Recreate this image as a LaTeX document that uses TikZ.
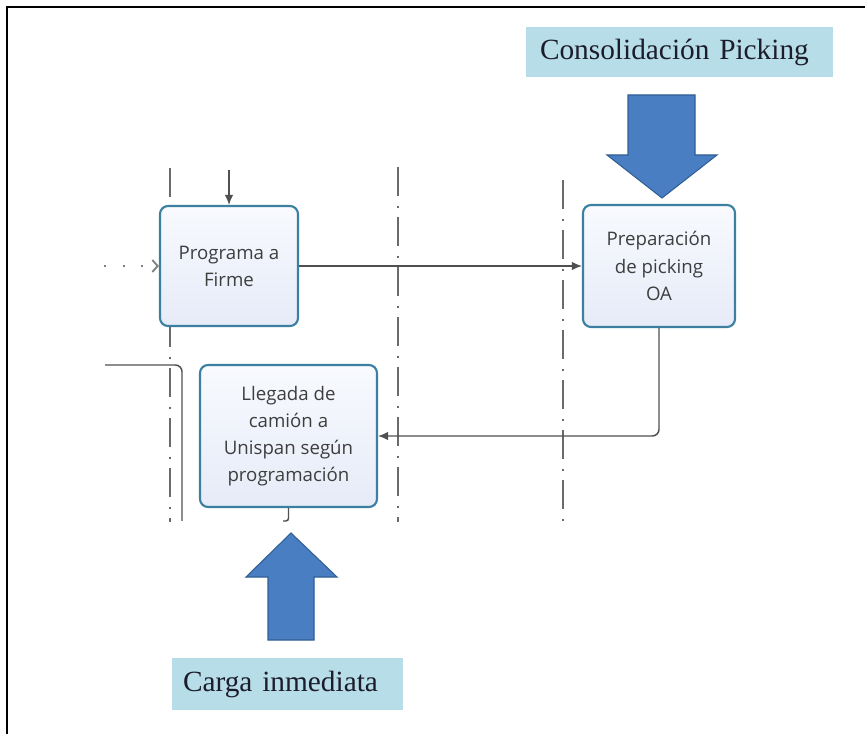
\documentclass[tikz,border=0pt]{standalone}
\usepackage{fontspec}
\setmainfont{Liberation Serif}
\newfontfamily\boxfont{Open Sans}
\usetikzlibrary{arrows.meta}

\definecolor{stepedge}{HTML}{3C7FA0}
\definecolor{steptop}{HTML}{F8FAFE}
\definecolor{stepbottom}{HTML}{E6EBF8}
\definecolor{steptext}{HTML}{3E3E3E}
\definecolor{wire}{HTML}{505050}
\definecolor{lane}{HTML}{6A6A6A}
\definecolor{tagfill}{HTML}{B7DEE8}
\definecolor{tagtext}{HTML}{1C1C2A}
\definecolor{bigfill}{HTML}{4A7EC2}
\definecolor{bigedge}{HTML}{2F5F95}

\tikzset{
  stepbox/.style={draw=stepedge, line width=1.6pt, rounded corners=6pt,
    top color=steptop, bottom color=stepbottom, align=center,
    text=steptext, font=\boxfont\fontsize{14}{20.3}\selectfont, inner sep=0pt},
  tagbox/.style={fill=tagfill, draw=none, align=left, text=tagtext,
    font=\fontsize{22}{26}\selectfont, inner ysep=0pt},
  wireline/.style={draw=wire, line width=1.1pt, rounded corners=5pt},
  flow/.style={wireline, -{Latex[length=7.5pt,width=6.5pt]}},
  laneline/.style={draw=lane, line width=1.1pt,
    dash pattern=on 22pt off 7pt on 1.5pt off 7pt},
  bigarrow/.style={fill=bigfill, draw=bigedge, line width=0.8pt, line join=miter},
}

\begin{document}
\begin{tikzpicture}[x=0.75pt, y=-0.75pt]
\useasboundingbox (0,0) rectangle (865,734);

% page frame (top and left edges)
\draw[line width=1.6pt] (865,7) -- (7,7) -- (7,734);

% swimlane separators
\draw[laneline] (170,168) -- (170,522);
\draw[laneline] (398,167) -- (398,522);
\draw[laneline] (563,180) -- (563,522);

% process steps
\node[stepbox, minimum width=103.5pt, minimum height=90pt] (prog) at (229,266)
  {Programa a\\Firme};
\node[stepbox, minimum width=114pt, minimum height=91.5pt] (prep) at (659,266)
  {Preparación\\de picking\\OA};
\node[stepbox, minimum width=132.75pt, minimum height=106.5pt] (lleg) at (288.5,436)
  {Llegada de\\camión a\\Unispan según\\programación};

% free ends of the connectors
\coordinate (topin) at (229,170);
\coordinate (dotin) at (104,266);
\coordinate (leftin) at (105,365);
\coordinate (leftout) at (182,521);
\coordinate (stubend) at (283,521);

% connectors
\draw[flow] (topin) -- (prog.north);
\draw[draw=gray, line width=1.4pt, dash pattern=on 1.5pt off 12.5pt,
  -{Straight Barb[length=4pt,width=9pt]}] (dotin) -- (prog.west);
\draw[flow] (prog.east) -- (prep.west);
\draw[flow] (prep.south) |- (lleg.east);
\draw[wireline] (leftin) -| (leftout);
\draw[wireline, rounded corners=2pt] (lleg.south) |- (stubend);

% callout labels
\node[tagbox, minimum width=230.25pt, minimum height=37.5pt, inner xsep=10.5pt,
  text width=209.25pt] (cons) at (679.5,52) {Consolidación Picking};
\node[tagbox, minimum width=173.25pt, minimum height=39pt, inner xsep=8.25pt,
  text width=156.75pt] (carga) at (287.5,684) {Carga inmediata};

% block arrows
\draw[bigarrow] (628,95) -- (695,95) -- (695,155) -- (717,155) -- (662,198)
  -- (607,155) -- (628,155) -- cycle;
\draw[bigarrow] (268,640) -- (314,640) -- (314,577) -- (337,577) -- (291,533)
  -- (246,577) -- (268,577) -- cycle;
\end{tikzpicture}
\end{document}
